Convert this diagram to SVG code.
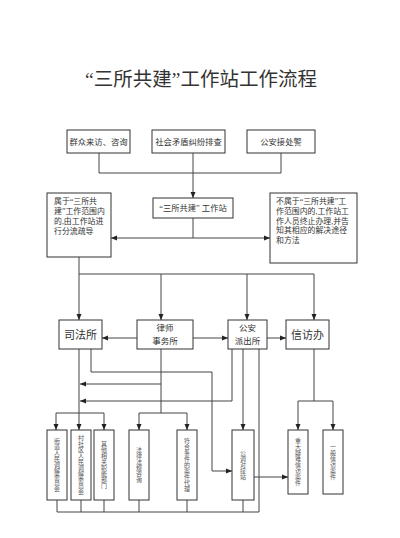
<svg xmlns="http://www.w3.org/2000/svg" width="400" height="538" viewBox="0 0 400 538">
<defs>
<marker id="arr" markerWidth="6" markerHeight="6" refX="6" refY="3" orient="auto" markerUnits="userSpaceOnUse">
<path d="M0,0.5 L6,3 L0,5.5 z" fill="#222"/>
</marker>
<style>
.b{fill:#fff;stroke:#333;stroke-width:1}
.t{font-family:"Liberation Serif","Noto Sans CJK SC",serif;fill:#333}
.c{fill:none;stroke:#444;stroke-width:1}
.a{marker-end:url(#arr)}
.v{font-family:"Noto Sans CJK SC",sans-serif;fill:#555;font-size:6px;writing-mode:vertical-rl;text-orientation:upright;text-anchor:middle}
</style>
</defs>
<rect width="400" height="538" fill="#fff"/>
<text class="t" x="201" y="86" font-size="19.5" text-anchor="middle">“三所共建”工作站工作流程</text>

<g id="connectors">
<path class="c" d="M99,153 V173 H281 V153"/>
<path class="c a" d="M193,153 V198"/>
<path class="c" d="M193,218 V238"/>
<path class="c a" d="M193,238 H111"/>
<path class="c a" d="M193,238 H270"/>
<path class="c a" d="M79,257 V320"/>
<path class="c a" d="M79,274 H314 V320"/>
<path class="c a" d="M161,274 V320"/>
<path class="c a" d="M247,274 V320"/>
<path class="c a" d="M137,338 H102"/>
<path class="c a" d="M193,338 H228"/>
<path class="c a" d="M267,338 H286"/>
<path class="c a" d="M79,349 V430"/>
<path class="c a" d="M79,413 H56 V430"/>
<path class="c a" d="M79,413 H104 V430"/>
<path class="c a" d="M91,349 V372 H212 V471 H232"/>
<path class="c" d="M161,349 V413"/>
<path class="c a" d="M161,384 H80"/>
<path class="c a" d="M161,413 H139 V430"/>
<path class="c a" d="M161,413 H187 V430"/>
<path class="c a" d="M232,349 V401 H80"/>
<path class="c a" d="M243,349 V430"/>
<path class="c" d="M259,349 V512"/>
<path class="c a" d="M254,477 H288"/>
<path class="c" d="M314,349 V401"/>
<path class="c a" d="M314,401 H298 V430"/>
<path class="c a" d="M314,401 H333 V430"/>
<path class="c" d="M57,500 V512 H259 M81,500 V512 M104,500 V512 M139,500 V512 M187,500 V512 M243,500 V512"/>
</g>

<g id="n1"><rect class="b" x="67" y="130" width="63" height="23"/><text class="t" x="98.5" y="144.5" font-size="8.3" text-anchor="middle">群众来访、咨询</text></g>
<g id="n2"><rect class="b" x="152" y="130" width="73" height="23"/><text class="t" x="188.5" y="144.5" font-size="8.3" text-anchor="middle">社会矛盾纠纷排查</text></g>
<g id="n3"><rect class="b" x="247" y="130" width="68" height="23"/><text class="t" x="281" y="144.5" font-size="8.3" text-anchor="middle">公安接处警</text></g>
<g id="station"><rect class="b" x="153" y="198" width="80" height="20"/><text class="t" x="193" y="211" font-size="8.3" text-anchor="middle">“三所共建” 工作站</text></g>
<g id="left"><rect class="b" x="47" y="193" width="64" height="64"/>
<text class="t" font-size="7.9"><tspan x="54" y="204">属于“三所共</tspan><tspan x="54" y="214">建”工作范围内</tspan><tspan x="54" y="224">的,由工作站进</tspan><tspan x="54" y="233.5">行分流疏导</tspan></text></g>
<g id="right"><rect class="b" x="270" y="193" width="87" height="70"/>
<text class="t" font-size="7.9"><tspan x="276" y="204">不属于“三所共建”工</tspan><tspan x="276" y="214">作范围内的,工作站工</tspan><tspan x="276" y="223.5">作人员终止办理,并告</tspan><tspan x="276" y="233">知其相应的解决途径</tspan><tspan x="276" y="242.5">和方法</tspan></text></g>

<g id="sifa"><rect class="b" x="59" y="320" width="43" height="29"/><text class="t" x="80.5" y="339" font-size="11" text-anchor="middle">司法所</text></g>
<g id="lvshi"><rect class="b" x="137" y="320" width="56" height="29"/><text class="t" font-size="8.5" text-anchor="middle"><tspan x="165" y="331">律师</tspan><tspan x="165" y="344">事务所</tspan></text></g>
<g id="gongan"><rect class="b" x="228" y="320" width="39" height="29"/><text class="t" font-size="8.5" text-anchor="middle"><tspan x="247.5" y="331">公安</tspan><tspan x="247.5" y="344">派出所</tspan></text></g>
<g id="xinfang"><rect class="b" x="286" y="320" width="43" height="29"/><text class="t" x="307.5" y="339" font-size="11" text-anchor="middle">信访办</text></g>

<g id="b1"><rect class="b" x="47" y="430" width="20" height="70"/><text class="v" x="57" y="465">街道人民调解委员会</text></g>
<g id="b2"><rect class="b" x="71" y="430" width="20" height="70"/><text class="v" x="81" y="465" font-size="5.8">村社区人民调解委员会</text></g>
<g id="b3"><rect class="b" x="94" y="430" width="20" height="70"/><text class="v" x="104" y="465">其他相关职能部门</text></g>
<g id="b4"><rect class="b" x="129" y="430" width="20" height="70"/><text class="v" x="139" y="465">法律法规咨询</text></g>
<g id="b5"><rect class="b" x="177" y="430" width="20" height="70"/><text class="v" x="187" y="465">符合条件的案件代理</text></g>
<g id="b6"><rect class="b" x="232" y="430" width="22" height="70"/><text class="v" x="243" y="465">公调对接站</text></g>
<g id="b7"><rect class="b" x="288" y="430" width="20" height="64"/><text class="v" x="298" y="462">重大疑难信访案件</text></g>
<g id="b8"><rect class="b" x="323" y="430" width="20" height="64"/><text class="v" x="333" y="462">一般信访案件</text></g>
</svg>
